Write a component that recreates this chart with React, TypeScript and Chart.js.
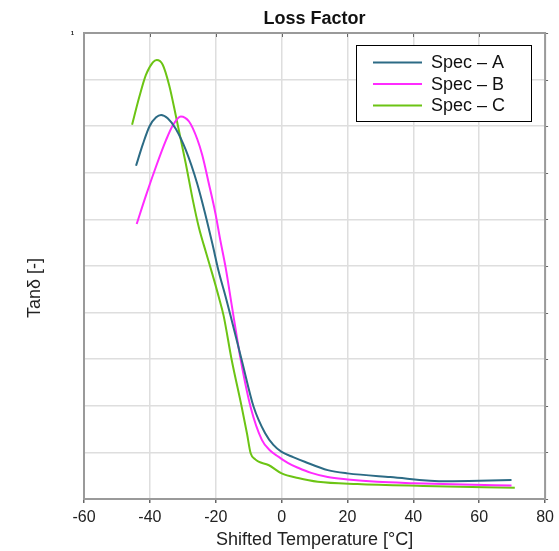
import React, { useEffect, useRef } from "react";
import { Chart, registerables } from "chart.js";

Chart.register(...registerables);

const X_TICKS = [-60, -40, -20, 0, 20, 40, 60, 80];

const specA_T = [-44.2, -42.1, -40.1, -38.1, -36.6, -34.6, -32.1, -29.1, -25.6, -23.1, -21.0, -19.1, -17.0, -15.5, -12.1, -8.5, -5.0, -2.5, 0, 3.5, 7, 14, 20, 33, 50, 60, 69.8];
const specA_tan = [0.715, 0.762, 0.8, 0.819, 0.824, 0.817, 0.794, 0.749, 0.676, 0.609, 0.547, 0.488, 0.434, 0.393, 0.298, 0.198, 0.141, 0.116, 0.101, 0.09, 0.08, 0.062, 0.055, 0.047, 0.038, 0.039, 0.041];

const specB_T = [-44, -41.2, -38.1, -35.1, -33.1, -30.6, -28.1, -25.6, -24.1, -22.1, -20.1, -18.6, -17.0, -15.1, -12.4, -9.4, -6.0, -3.5, -1, 2, 5, 9, 14, 20, 29, 40, 55, 69.8];
const specB_tan = [0.59, 0.651, 0.714, 0.77, 0.801, 0.821, 0.81, 0.772, 0.738, 0.677, 0.613, 0.555, 0.497, 0.414, 0.298, 0.197, 0.127, 0.104, 0.091, 0.077, 0.067, 0.056, 0.047, 0.042, 0.037, 0.034, 0.031, 0.029];

const specC_T = [-45.4, -43.2, -41.2, -39.1, -37.9, -36.1, -34.1, -32.1, -29.1, -27.0, -25.1, -23.0, -21.0, -19.1, -17.6, -15.2, -12.1, -10.5, -9.4, -8.0, -7.0, -4, 0, 5, 11, 23, 43, 70.8];
const specC_tan = [0.803, 0.863, 0.91, 0.937, 0.942, 0.932, 0.887, 0.822, 0.72, 0.643, 0.582, 0.53, 0.482, 0.434, 0.393, 0.3, 0.197, 0.14, 0.098, 0.085, 0.08, 0.073, 0.055, 0.045, 0.037, 0.032, 0.028, 0.024];

const SERIES = [
  { label: "Spec \u2013 A", t: specA_T, v: specA_tan, color: "#2c6b85" },
  { label: "Spec \u2013 B", t: specB_T, v: specB_tan, color: "#ff2bff" },
  { label: "Spec \u2013 C", t: specC_T, v: specC_tan, color: "#6cc414" },
];

const FONT = "'Liberation Sans', Arial, sans-serif";

const framePlugin = {
  id: "frame",
  afterDraw(chart: any) {
    const { ctx, chartArea: a, scales } = chart;
    ctx.save();
    // top & right tick marks
    ctx.strokeStyle = "#666";
    ctx.lineWidth = 1;
    for (const v of X_TICKS) {
      const px = Math.round(scales.x.getPixelForValue(v)) + 0.5;
      ctx.beginPath();
      ctx.moveTo(px, a.top);
      ctx.lineTo(px, a.top + 4);
      ctx.stroke();
    }
    for (const t of scales.y.ticks) {
      const py = Math.round(scales.y.getPixelForValue(t.value)) + 0.5;
      ctx.beginPath();
      ctx.moveTo(a.right, py);
      ctx.lineTo(a.right + 3, py);
      ctx.stroke();
    }
    // frame
    ctx.strokeStyle = "#9a9a9a";
    ctx.lineWidth = 2;
    ctx.strokeRect(a.left, a.top, a.right - a.left, a.bottom - a.top);

    // legend
    const lx = 356.5, ly = 45.5, lw = 175, lh = 76;
    ctx.fillStyle = "#fff";
    ctx.fillRect(lx, ly, lw, lh);
    ctx.strokeStyle = "#000";
    ctx.lineWidth = 1;
    ctx.strokeRect(lx, ly, lw, lh);
    ctx.font = "18px " + FONT;
    ctx.textBaseline = "middle";
    ctx.textAlign = "left";
    chart.data.datasets.forEach((ds: any, i: number) => {
      const y = 62.5 + i * 21.5;
      ctx.strokeStyle = ds.borderColor;
      ctx.lineWidth = 2;
      ctx.beginPath();
      ctx.moveTo(373, y);
      ctx.lineTo(422, y);
      ctx.stroke();
      ctx.fillStyle = "#111";
      ctx.fillText(ds.label, 431, y + 1);
    });

    // y axis title
    ctx.save();
    ctx.translate(35, 288);
    ctx.rotate(-Math.PI / 2);
    ctx.textAlign = "center";
    ctx.textBaseline = "middle";
    ctx.fillStyle = "#222";
    ctx.font = "18px " + FONT;
    ctx.fillText("Tan\u03b4 [-]", 0, 0);
    ctx.restore();
    ctx.restore();
  },
};

export default function App() {
  const ref = useRef<HTMLCanvasElement | null>(null);
  useEffect(() => {
    if (!ref.current) return;
    const chart = new Chart(ref.current, {
      type: "line",
      data: {
        datasets: SERIES.map((s) => ({
          label: s.label,
          data: s.t.map((t, i) => ({ x: t, y: s.v[i] })),
          borderColor: s.color,
          backgroundColor: s.color,
          borderWidth: 2,
          pointRadius: 0,
          fill: false,
          cubicInterpolationMode: "monotone" as const,
        })),
      },
      options: {
        animation: false,
        responsive: false,
        events: [],
        layout: { padding: { left: 0, right: 10, top: 0, bottom: 0 } },
        plugins: {
          legend: { display: false },
          tooltip: { enabled: false },
          title: {
            display: true,
            text: "Loss Factor",
            fullSize: false,
            color: "#111",
            font: { family: FONT, size: 18, weight: "bold" },
            padding: { top: 8.2, bottom: 3.2 },
          },
        },
        scales: {
          x: {
            type: "linear",
            min: -60,
            max: 80,
            afterBuildTicks: (scale: any) => {
              scale.ticks = X_TICKS.map((v) => ({ value: v }));
            },
            afterFit: (scale: any) => {
              scale.height = 52;
            },
            ticks: {
              color: "#222",
              font: { family: FONT, size: 16 },
              padding: 5,
              maxRotation: 0,
              autoSkip: false,
            },
            grid: {
              color: "#dedede",
              lineWidth: 1.5,
              drawTicks: true,
              tickLength: 4,
              tickColor: "#666",
            },
            border: { display: false },
            title: {
              display: true,
              text: "Shifted Temperature [\u00b0C]",
              color: "#222",
              font: { family: FONT, size: 18 },
              padding: { top: 0, bottom: 0 },
            },
          },
          y: {
            type: "linear",
            min: 0,
            max: 1,
            afterFit: (scale: any) => {
              scale.width = 84;
            },
            ticks: {
              stepSize: 0.1,
              color: "#222",
              font: { family: FONT, size: 6, weight: "bold" },
              padding: 10,
              callback: (v: any) => (Math.abs(Number(v) - 1) < 1e-9 ? "1" : ""),
            },
            grid: {
              color: "#dedede",
              lineWidth: 1.5,
              drawTicks: false,
            },
            border: { display: false },
          },
        },
      },
      plugins: [framePlugin],
    } as any);
    return () => chart.destroy();
  }, []);
  return (
    <div style={{ position: "fixed", left: 0, top: 0, width: 559, height: 551, background: "#fff" }}>
      <canvas ref={ref} width={559} height={551} />
    </div>
  );
}
